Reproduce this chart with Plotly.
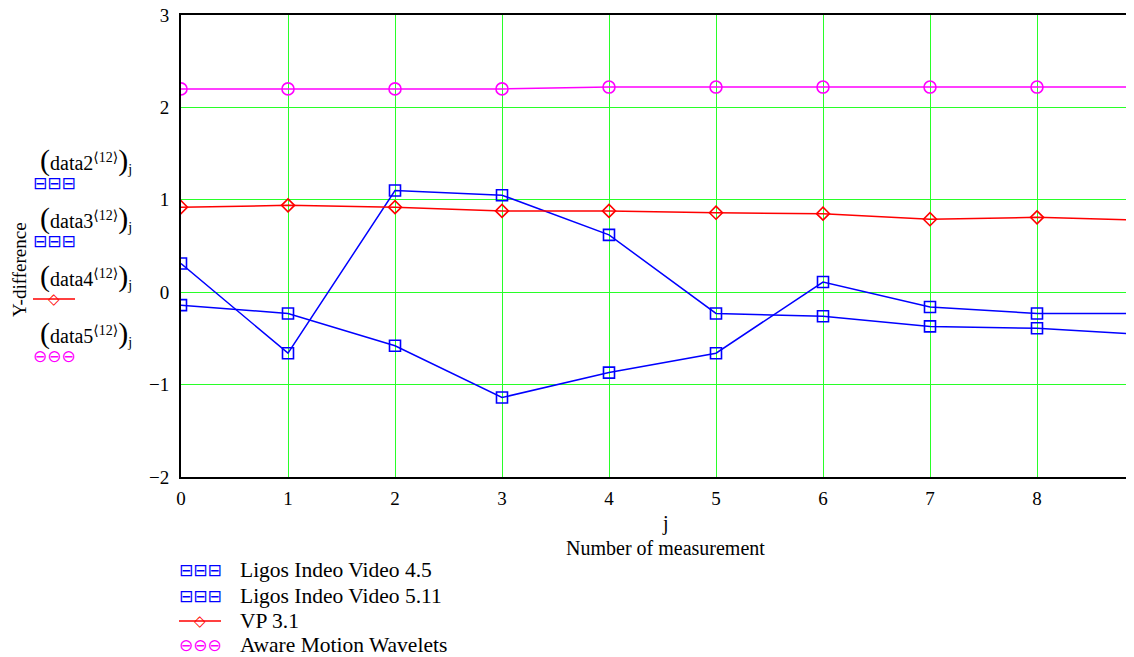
import plotly.graph_objects as go

# ---- data ----
j = list(range(10))
ligos45 = [0.31, -0.66, 1.10, 1.05, 0.62, -0.23, -0.26, -0.37, -0.39, -0.46]
ligos511 = [-0.14, -0.23, -0.58, -1.14, -0.87, -0.66, 0.11, -0.16, -0.23, -0.23]
vp31 = [0.92, 0.94, 0.92, 0.88, 0.88, 0.86, 0.85, 0.79, 0.81, 0.78]
aware = [2.20, 2.20, 2.20, 2.20, 2.22, 2.22, 2.22, 2.22, 2.22, 2.22]
names = ["Ligos Indeo Video 4.5", "Ligos Indeo Video 5.11", "VP 3.1", "Aware Motion Wavelets"]
x_ticks = [0, 1, 2, 3, 4, 5, 6, 7, 8]
y_ticks = [-2, -1, 0, 1, 2, 3]

# the page body adds an 8px offset; the figure is sized to fill the rest of the window
OFF = 8
W, H = 1134 - OFF, 657 - OFF
PL, PR, PT, PB = 181, 1134, 15, 477          # plot area in window pixels
L, R, T, B = PL - OFF, 0, PT - OFF, H - (PB - OFF)
pw, ph = W - L - R, H - T - B
X_MAX = pw / 107.0


def px(x):
    return (x - OFF - L) / pw


def py(y):
    return (H - B - (y - OFF)) / ph


FONT = "Liberation Serif, Times New Roman, serif"
BLUE, RED, MAG = "rgb(0,0,255)", "rgb(255,0,0)", "rgb(255,0,255)"
GRID = "rgb(40,255,40)"
colors = [BLUE, BLUE, RED, MAG]
glyphs = ["⊟⊟⊟", "⊟⊟⊟", None, "⊖⊖⊖"]

fig = go.Figure()
fig.add_trace(go.Scatter(x=j, y=ligos45, name=names[0], mode="lines+markers",
                         line=dict(color=BLUE, width=1.5),
                         marker=dict(symbol="square-open", size=11, color=BLUE, line=dict(width=1.6))))
fig.add_trace(go.Scatter(x=j, y=ligos511, name=names[1], mode="lines+markers",
                         line=dict(color=BLUE, width=1.5),
                         marker=dict(symbol="square-open", size=11, color=BLUE, line=dict(width=1.6))))
fig.add_trace(go.Scatter(x=j, y=vp31, name=names[2], mode="lines+markers",
                         line=dict(color=RED, width=1.5),
                         marker=dict(symbol="diamond-open", size=10, color=RED, line=dict(width=1.6))))
fig.add_trace(go.Scatter(x=j, y=aware, name=names[3], mode="lines+markers",
                         line=dict(color=MAG, width=1.5),
                         marker=dict(symbol="circle-open", size=12, color=MAG, line=dict(width=1.6))))

ann = []
shapes = []


def text(t, x, y, size=20, color="black", family=FONT, xanchor="center", angle=0):
    ann.append(dict(text=t, x=px(x), y=py(y), xref="paper", yref="paper",
                    showarrow=False, textangle=angle, xanchor=xanchor, yanchor="middle",
                    font=dict(family=family, size=size, color=color)))


def sample(i, xc, yc):
    if glyphs[i]:
        text(glyphs[i], xc, yc, size=17, color=colors[i], family="DejaVu Sans")
    else:
        shapes.append(dict(type="line", xref="paper", yref="paper", x0=px(xc - 21), x1=px(xc + 21),
                           y0=py(yc), y1=py(yc), line=dict(color=colors[i], width=1.5)))
        text("◇", xc, yc, size=15, color=colors[i], family="DejaVu Sans")


# Y axis title
text("Y-difference", 19, 270, size=19, angle=-90)
# X axis titles
text("j", 665, 523, size=20)
text("Number of measurement", 665, 548, size=20)

# Mathcad-style y-expression labels with trace samples
labels = ["data2", "data3", "data4", "data5"]
label_y = [160, 218, 276, 333]
sample_y = [183, 241, 299, 356]
for i, (lab, ly, sy) in enumerate(zip(labels, label_y, sample_y)):
    t = ("<span style='font-size:30px'>(</span>" + lab +
         "<sup><span style='font-family:DejaVu Serif'>⟨</span>12"
         "<span style='font-family:DejaVu Serif'>⟩</span></sup>"
         "<span style='font-size:30px'>)</span><sub>j</sub>")
    text(t, 86, ly, size=20)
    sample(i, 54, sy)

# bottom legend
leg_y = [570, 596, 621, 645]
for i, (nm, ly) in enumerate(zip(names, leg_y)):
    sample(i, 200, ly)
    text(nm, 238, ly, size=21.5, xanchor="left")

fig.update_layout(
    width=W, height=H,
    margin=dict(l=L, r=R, t=T, b=B, autoexpand=False),
    paper_bgcolor="white", plot_bgcolor="white",
    font=dict(family=FONT, size=20, color="black"),
    showlegend=False,
    annotations=ann, shapes=shapes,
    xaxis=dict(range=[0, X_MAX], tickvals=x_ticks, showgrid=True,
               gridcolor=GRID, gridwidth=1.3, zeroline=False,
               showline=True, linecolor="black", linewidth=2, mirror=True,
               ticks="", ticklabelstandoff=3, ticklabeloverflow="allow",
               tickfont=dict(family=FONT, size=19)),
    yaxis=dict(range=[-2, 3], tickvals=y_ticks, showgrid=True,
               gridcolor=GRID, gridwidth=1.3, zeroline=False,
               showline=True, linecolor="black", linewidth=2, mirror=False,
               ticks="", ticklabelstandoff=6, ticklabeloverflow="allow",
               tickfont=dict(family=FONT, size=19)),
)

fig.write_html("out.html")
